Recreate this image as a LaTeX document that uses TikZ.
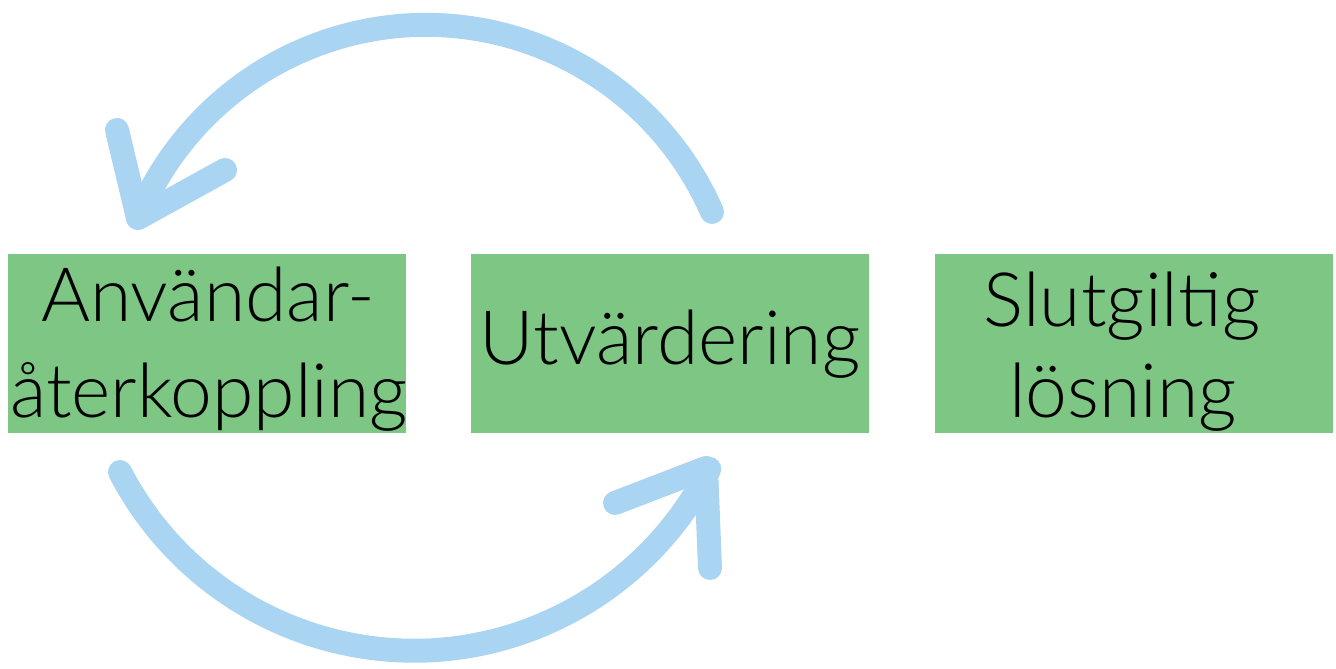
\documentclass[tikz,border=0pt]{standalone}
\usepackage{fontspec}
\setmainfont{Lato Light}
\definecolor{boxgreen}{HTML}{7DC683}
\definecolor{loopblue}{HTML}{A9D5F2}
\begin{document}
\begin{tikzpicture}[x=1pt,y=1pt,
  stagebox/.style={fill=boxgreen,draw=none,minimum width=398pt,minimum height=179pt,inner sep=0pt},
  label/.style={font=\fontsize{75}{96}\selectfont,inner sep=0pt,anchor=base},
  loop/.style={draw=loopblue,line width=24pt,line cap=round,line join=round}]
\useasboundingbox (0,0) rectangle (1336,669);
% stages
\node[stagebox] (fb)  at (207,325.5) {};
\node[stagebox] (ev)  at (670,325.5) {};
\node[stagebox] (fin) at (1133.5,325.5) {};
\node[label] (fb1) at (208,347) {Användar-};
\node[label] (fb2) at (209,251) {återkoppling};
\node[label] (ev1) at (670,304) {Utvärdering};
\node[label] (fin1) at (1122,342) {Slutgiltig};
\node[label] (fin2) at (1123,251) {lösning};
% feedback loop, upper half
\coordinate (tstart) at (712,457);
\coordinate (ttip) at (138,451);
\coordinate (th1) at (117,539);
\coordinate (th2) at (225,499);
\draw[loop] (tstart) arc[start angle=23.6,end angle=157.5,radius=312];
\draw[loop] (th1) -- (ttip) -- (th2);
% feedback loop, lower half
\coordinate (bstart) at (120,197);
\coordinate (btip) at (706,201);
\coordinate (bh1) at (615,166);
\coordinate (bh2) at (710,101);
\draw[loop] (bstart) arc[start angle=207.4,end angle=333.2,radius=331];
\draw[loop] (bh1) -- (btip) -- (bh2);
\end{tikzpicture}
\end{document}
